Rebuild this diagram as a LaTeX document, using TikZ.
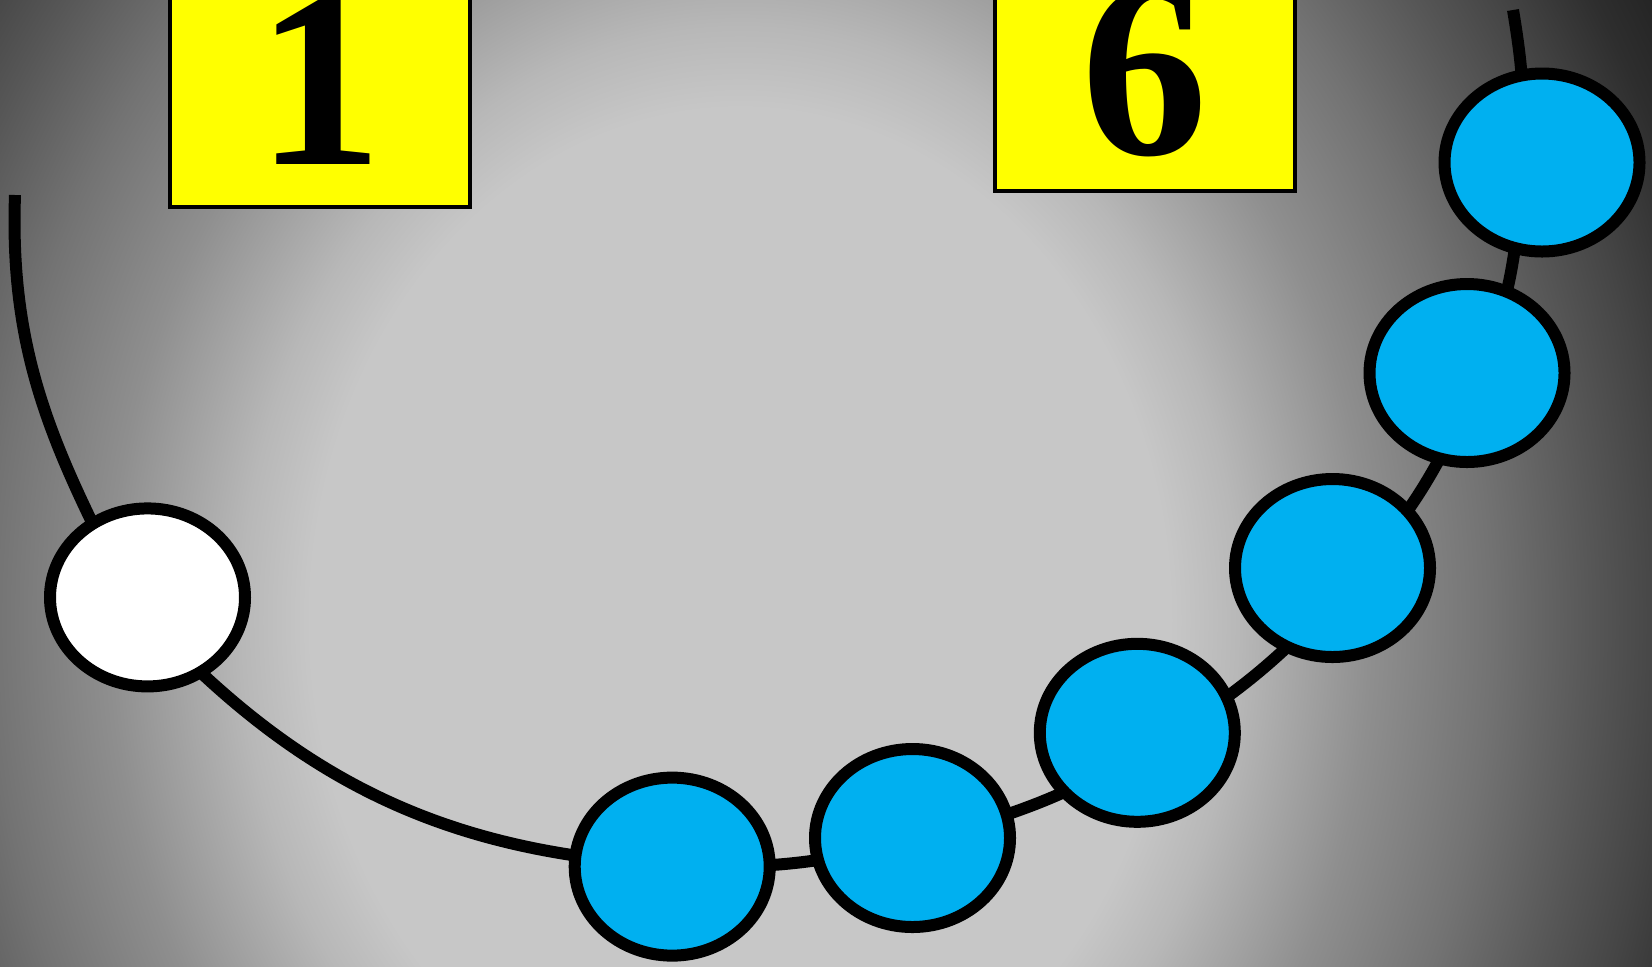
\documentclass[tikz,border=0pt]{standalone}
\usepackage{fontspec}
\setmainfont{Liberation Serif}
\usepackage{tikz}
\usetikzlibrary{shapes.geometric, positioning}
\definecolor{beadblue}{HTML}{00B0F0}
\definecolor{tagyellow}{HTML}{FFFF00}
\pgfdeclareradialshading{glow}{\pgfpoint{0bp}{0bp}}{%
  color(0bp)=(black!22); color(9.35bp)=(black!22); color(10.85bp)=(black!28);
  color(13.7bp)=(black!44); color(16.3bp)=(black!55); color(18.5bp)=(black!66);
  color(20bp)=(black!73); color(21.75bp)=(black!82); color(23.9bp)=(black!89);
  color(25bp)=(black!90); color(50bp)=(black!90)}

\begin{document}
\begin{tikzpicture}
    \tikzstyle{numbox}=[rectangle, draw=black, line width=0.04cm, fill=tagyellow,
                        minimum width=3.0cm, inner sep=0pt, text height=2.4cm,
                        text depth=0.40cm, anchor=base,
                        font=\bfseries\fontsize{72}{72}\selectfont]
    \tikzstyle{bead}=[ellipse, draw=black, line width=0.12cm, minimum width=1.95cm,
                      minimum height=1.78cm, inner sep=0pt, fill=beadblue]
    \tikzstyle{thread}=[black, line width=0.12cm]

    % backdrop
    \useasboundingbox (0,0) rectangle (16.52,-9.66);
    \clip (0,0) rectangle (16.52,-9.66);
    \fill[black!90] (0,0) rectangle (16.52,-9.66);
    \shade[shading=glow] (7.40,-6.20) ellipse (11.5cm and 13.69cm);

    % number tags
    \node[numbox, text depth=0.43cm] (one) at (3.20,-1.64)  {1};
    \node[numbox, text depth=0.37cm] (six) at (11.445,-1.54) {6};

    % thread
    \coordinate (k0) at (0.15,-1.95);
    \coordinate (kw) at (1.32,-6.02);
    \coordinate (ka) at (6.72,-8.65);
    \coordinate (kb) at (9.12,-8.41);
    \coordinate (kc) at (11.48,-7.48);
    \coordinate (kd) at (13.50,-5.82);
    \coordinate (ke) at (14.78,-3.77);
    \coordinate (kf) at (15.22,-1.63);
    \coordinate (k9) at (15.13,-0.10);

    \draw[thread] (k0) to[out=-92,in=117] (kw) to[out=-48,in=177] (ka)
                       to[out=-3,in=193.6] (kb) to[out=13.6,in=210.5] (kc)
                       to[out=30.5,in=228] (kd) to[out=48,in=247] (ke)
                       to[out=67,in=267] (kf) to[out=87,in=279.5] (k9);

    % beads
    \node[bead, fill=white] (wb) at (1.475,-5.974) {};
    \node[bead] (b1) at (6.722,-8.666) {};
    \node[bead] (b2) at (9.125,-8.380) {};
    \node[bead] (b3) at (11.373,-7.328) {};
    \node[bead] (b4) at (13.325,-5.680) {};
    \node[bead] (b5) at (14.670,-3.730) {};
    \node[bead] (b6) at (15.420,-1.625) {};
\end{tikzpicture}
\end{document}
